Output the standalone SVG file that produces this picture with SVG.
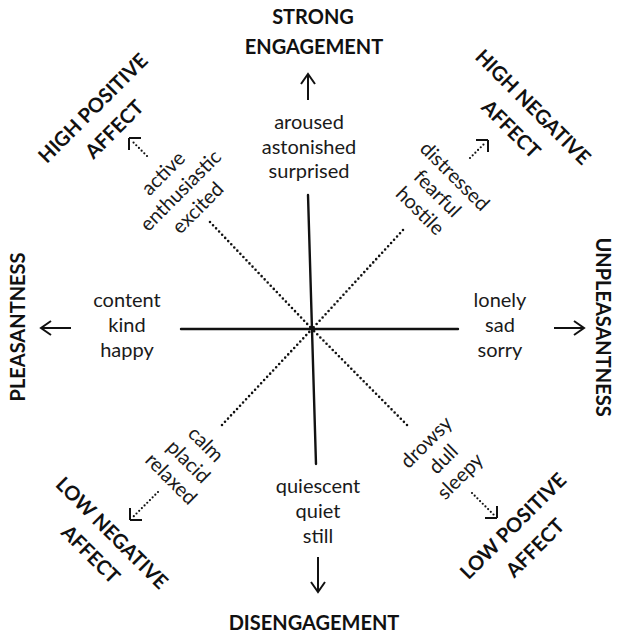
<svg xmlns="http://www.w3.org/2000/svg" width="617" height="634" viewBox="0 0 617 634">
  <style>
    .pole { font-family: Lato, "Liberation Sans", sans-serif; font-weight: 700; font-size: 20px; fill: #111; text-anchor: middle; }
    .word { font-family: Lato, "Liberation Sans", sans-serif; font-size: 20px; fill: #1a1a1a; text-anchor: middle; }
    .axis { stroke: #111; stroke-width: 2.4; fill: none; stroke-linecap: round; }
    .dots { stroke: #111; stroke-width: 2.6; fill: none; stroke-linecap: round; stroke-dasharray: 0 4.4; }
    .arrow { stroke: #111; stroke-width: 2; fill: none; }
    .darrow { stroke: #111; stroke-width: 2.2; fill: none; stroke-linecap: round; stroke-dasharray: 0 3.8; }
  </style>
  <defs>
    <marker id="head" viewBox="-12 -8 14 16" markerWidth="14" markerHeight="16" refX="0" refY="0" orient="auto" markerUnits="userSpaceOnUse">
      <path d="M-10,-7 L0,0 L-10,7" fill="none" stroke="#111" stroke-width="2" stroke-linejoin="miter"/>
    </marker>
  </defs>

  <rect width="617" height="634" fill="#fff"/>

  <!-- connectors: axes, diagonals and pole arrows -->
  <g id="connectors">
    <line class="axis" x1="308" y1="195" x2="316" y2="464"/>
    <line class="axis" x1="181" y1="329" x2="458" y2="329"/>
    <line class="dots" x1="210" y1="222" x2="312" y2="329"/>
    <line class="dots" x1="403" y1="230" x2="312" y2="329"/>
    <line class="dots" x1="222" y1="425" x2="312" y2="329"/>
    <line class="dots" x1="407" y1="425" x2="312" y2="329"/>

    <line class="arrow" x1="308" y1="100" x2="308" y2="74" marker-end="url(#head)"/>
    <line class="arrow" x1="318" y1="557" x2="318" y2="592" marker-end="url(#head)"/>
    <line class="arrow" x1="71" y1="328" x2="41" y2="328" marker-end="url(#head)"/>
    <line class="arrow" x1="554" y1="328" x2="584" y2="328" marker-end="url(#head)"/>

    <!-- dotted affect arrows with open heads -->
    <line class="darrow" x1="147" y1="156" x2="132" y2="141"/>
    <path class="arrow" d="M129,138 l0,12 M129,138 l12,0"/>
    <line class="darrow" x1="470" y1="158" x2="485" y2="143"/>
    <path class="arrow" d="M488,140 l-12,0 M488,140 l0,12"/>
    <line class="darrow" x1="158" y1="492" x2="133" y2="517"/>
    <path class="arrow" d="M130,520 l12,0 M130,520 l0,-12"/>
    <line class="darrow" x1="472" y1="493" x2="494" y2="515"/>
    <path class="arrow" d="M497,518 l-12,0 M497,518 l0,-12"/>
  </g>

  <!-- pole labels -->
  <g id="strong-engagement">
    <text class="pole" x="313" y="24">STRONG</text>
    <text class="pole" x="314" y="54">ENGAGEMENT</text>
  </g>
  <g id="disengagement">
    <text class="pole" x="314" y="630">DISENGAGEMENT</text>
  </g>
  <g id="pleasantness">
    <text class="pole" transform="translate(25,327) rotate(-90)">PLEASANTNESS</text>
  </g>
  <g id="unpleasantness">
    <text class="pole" transform="translate(596,327) rotate(90)">UNPLEASANTNESS</text>
  </g>
  <g id="high-positive-affect" transform="translate(98,113) rotate(-45)">
    <text class="pole" x="0" y="0">HIGH POSITIVE</text>
    <text class="pole" x="0" y="30">AFFECT</text>
  </g>
  <g id="high-negative-affect" transform="translate(528,112) rotate(45)">
    <text class="pole" x="0" y="0">HIGH NEGATIVE</text>
    <text class="pole" x="0" y="31">AFFECT</text>
  </g>
  <g id="low-negative-affect" transform="translate(107,538) rotate(45)">
    <text class="pole" x="0" y="0">LOW NEGATIVE</text>
    <text class="pole" x="0" y="30">AFFECT</text>
  </g>
  <g id="low-positive-affect" transform="translate(518,531) rotate(-45)">
    <text class="pole" x="0" y="0">LOW POSITIVE</text>
    <text class="pole" x="0" y="31">AFFECT</text>
  </g>

  <!-- affect words -->
  <g id="engaged-words">
    <text class="word" x="309" y="129">aroused</text>
    <text class="word" x="309" y="154">astonished</text>
    <text class="word" x="309" y="178">surprised</text>
  </g>
  <g id="disengaged-words">
    <text class="word" x="318" y="493">quiescent</text>
    <text class="word" x="318" y="518">quiet</text>
    <text class="word" x="318" y="543">still</text>
  </g>
  <g id="pleasant-words">
    <text class="word" x="127" y="307">content</text>
    <text class="word" x="127" y="332">kind</text>
    <text class="word" x="127" y="357">happy</text>
  </g>
  <g id="unpleasant-words">
    <text class="word" x="500" y="307">lonely</text>
    <text class="word" x="500" y="332">sad</text>
    <text class="word" x="500" y="357">sorry</text>
  </g>
  <g id="high-positive-words" transform="translate(168,178) rotate(-45)">
    <text class="word" x="0" y="0">active</text>
    <text class="word" x="0" y="24.5">enthusiastic</text>
    <text class="word" x="0" y="49">excited</text>
  </g>
  <g id="high-negative-words" transform="translate(450,181) rotate(45)">
    <text class="word" x="0" y="0">distressed</text>
    <text class="word" x="0" y="24.5">fearful</text>
    <text class="word" x="0" y="49">hostile</text>
  </g>
  <g id="low-negative-words" transform="translate(201,449) rotate(45)">
    <text class="word" x="0" y="0">calm</text>
    <text class="word" x="0" y="24.5">placid</text>
    <text class="word" x="0" y="49">relaxed</text>
  </g>
  <g id="low-positive-words" transform="translate(431,447) rotate(-45)">
    <text class="word" x="0" y="0">drowsy</text>
    <text class="word" x="0" y="24">dull</text>
    <text class="word" x="0" y="48">sleepy</text>
  </g>
</svg>
